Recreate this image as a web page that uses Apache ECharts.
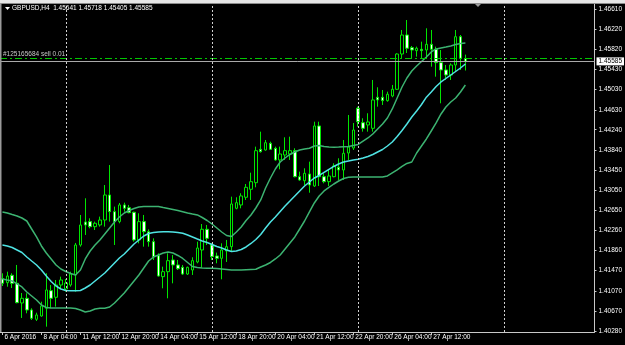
<!DOCTYPE html>
<html>
<head>
<meta charset="utf-8">
<script src="https://cdn.jsdelivr.net/npm/echarts@6/dist/echarts.min.js"></script>
<style>
html,body{margin:0;padding:0;background:#000;}
#c{width:625px;height:345px;}
</style>
</head>
<body>
<div id="c"></div>
<script>
// ---- data (GBPUSD H4) ----
const symbolTitle = 'GBPUSD,H4  1.45641 1.45718 1.45405 1.45585';
const orderText = '#125165684 sell 0.01';
const orderPrice = 1.45645;
const bidPrice = 1.45585;
const totalSlots = 122;
const xTickLabels = ['6 Apr 2016','8 Apr 04:00','11 Apr 12:00','12 Apr 20:00','14 Apr 04:00','15 Apr 12:00','18 Apr 20:00','20 Apr 04:00','21 Apr 12:00','22 Apr 20:00','26 Apr 04:00','27 Apr 12:00'];
const yTicks = [1.40280,1.40670,1.41070,1.41470,1.41860,1.42260,1.42650,1.43050,1.43450,1.43840,1.44240,1.44630,1.45030,1.45430,1.45820,1.46220,1.46610];
const weekSeparators = [13, 43, 73, 103];

const opens = [1.41309,1.41230,1.41376,1.41218,1.40831,1.40923,1.40693,1.40510,1.40575,1.40726,
1.41073,1.40943,1.41185,1.41106,1.41185,1.41382,1.41972,1.42425,1.42432,1.42333,
1.42366,1.42464,1.42956,1.42628,1.42432,1.42760,1.42706,1.42616,1.42071,1.42432,
1.42234,1.42038,1.41762,1.41349,1.41447,1.41677,1.41579,1.41533,1.41401,1.41480,
1.41638,1.41874,1.42281,1.41972,1.41756,1.41710,1.41854,1.41939,1.42694,1.42760,
1.42911,1.43068,1.43198,1.43855,1.43841,1.43972,1.43874,1.43645,1.43743,1.43763,
1.43828,1.43316,1.43237,1.43369,1.43133,1.44314,1.43316,1.43218,1.43316,1.43501,
1.43448,1.43782,1.43880,1.44662,1.44379,1.44334,1.44268,1.44879,1.44879,1.44812,
1.44904,1.45036,1.45730,1.46104,1.45855,1.45796,1.45823,1.45809,1.45921,1.45823,
1.45560,1.45416,1.45317,1.45514,1.46071,1.45641];
const closes = [1.41218,1.41362,1.41218,1.40837,1.40923,1.40693,1.40529,1.40595,1.40772,1.41087,
1.40923,1.41185,1.41283,1.41224,1.41401,1.41972,1.42366,1.42366,1.42333,1.42399,
1.42464,1.42956,1.42628,1.42432,1.42760,1.42694,1.42608,1.42071,1.42432,1.42234,
1.42038,1.41743,1.41362,1.41447,1.41664,1.41579,1.41506,1.41401,1.41533,1.41664,
1.41913,1.42281,1.42103,1.41743,1.41710,1.41874,1.41939,1.42779,1.42805,1.42937,
1.43107,1.43218,1.43828,1.43808,1.43985,1.43855,1.43645,1.43763,1.43828,1.43828,
1.43316,1.43251,1.43383,1.43152,1.44314,1.43316,1.43218,1.43330,1.43527,1.43448,
1.43776,1.43900,1.44235,1.44398,1.44268,1.44393,1.44826,1.44826,1.44812,1.44938,
1.45036,1.45730,1.46104,1.45843,1.45809,1.45843,1.45796,1.45921,1.45823,1.45560,
1.45416,1.45317,1.45514,1.46071,1.45645,1.45585];
const lows = [1.41165,1.41151,1.41125,1.40825,1.40536,1.40628,1.40496,1.40477,1.40562,1.40365,
1.40726,1.40759,1.41120,1.41054,1.41152,1.41054,1.41939,1.42169,1.42300,1.42267,
1.42333,1.42333,1.42432,1.41972,1.42399,1.42628,1.42596,1.42038,1.42005,1.41939,
1.41939,1.41677,1.41349,1.41120,1.40923,1.41218,1.41480,1.41382,1.41382,1.41382,
1.41612,1.41533,1.41972,1.41677,1.41612,1.41297,1.41638,1.41841,1.42674,1.42694,
1.42858,1.42858,1.43107,1.43789,1.43828,1.43841,1.43631,1.43461,1.43645,1.43645,
1.43304,1.43237,1.43152,1.43001,1.43113,1.43133,1.43186,1.43133,1.43304,1.43251,
1.43251,1.43645,1.43841,1.44300,1.44202,1.44202,1.44202,1.44694,1.44727,1.44792,
1.44879,1.45022,1.45652,1.45750,1.45646,1.45678,1.45646,1.45652,1.45481,1.45284,
1.44760,1.45219,1.45219,1.45382,1.45416,1.45405];
const highs = [1.41415,1.41447,1.41415,1.41579,1.41028,1.41022,1.40726,1.40640,1.40857,1.41415,
1.41185,1.41283,1.41349,1.41303,1.41447,1.42012,1.42563,1.42891,1.42497,1.42432,
1.42530,1.43152,1.43546,1.42727,1.42799,1.42805,1.42760,1.42628,1.42596,1.42563,
1.42280,1.42103,1.41808,1.41546,1.41808,1.41776,1.41677,1.41579,1.41546,1.41730,
1.42038,1.42385,1.42366,1.42005,1.41822,1.42005,1.42071,1.42923,1.42911,1.42990,
1.43172,1.43395,1.43907,1.44202,1.44038,1.44005,1.43907,1.43907,1.44091,1.44103,
1.43875,1.43415,1.43481,1.43612,1.44398,1.44398,1.43383,1.43448,1.43580,1.43678,
1.44038,1.44530,1.44373,1.44694,1.44465,1.44564,1.45219,1.45075,1.45022,1.44989,
1.45121,1.45744,1.46203,1.46399,1.45888,1.45875,1.45973,1.46236,1.46203,1.45875,
1.45809,1.45514,1.45547,1.46203,1.46104,1.45718];

const bandUpper = [1.42622,1.42602,1.42572,1.42543,1.42503,1.42444,1.42287,1.42130,1.41953,1.41815,
1.41697,1.41579,1.41500,1.41451,1.41411,1.41382,1.41480,1.41697,1.41854,1.41972,
1.42071,1.42189,1.42307,1.42425,1.42523,1.42602,1.42651,1.42691,1.42720,1.42730,
1.42730,1.42730,1.42730,1.42710,1.42691,1.42671,1.42651,1.42628,1.42602,1.42582,
1.42563,1.42513,1.42454,1.42385,1.42307,1.42228,1.42159,1.42139,1.42228,1.42326,
1.42454,1.42563,1.42700,1.42858,1.43093,1.43290,1.43467,1.43605,1.43684,1.43753,
1.43802,1.43841,1.43861,1.43875,1.43920,1.43930,1.43910,1.43900,1.43894,1.43900,
1.43907,1.43910,1.43930,1.43950,1.44018,1.44078,1.44156,1.44255,1.44353,1.44471,
1.44649,1.44865,1.45081,1.45258,1.45396,1.45494,1.45583,1.45671,1.45770,1.45829,
1.45849,1.45868,1.45888,1.45917,1.45937,1.45947];
const bandMiddle = [1.41972,1.41953,1.41923,1.41874,1.41825,1.41736,1.41657,1.41579,1.41480,1.41362,
1.41254,1.41165,1.41106,1.41077,1.41073,1.41073,1.41077,1.41126,1.41185,1.41264,
1.41342,1.41421,1.41520,1.41618,1.41716,1.41795,1.41894,1.41992,1.42071,1.42149,
1.42198,1.42218,1.42228,1.42234,1.42234,1.42228,1.42218,1.42202,1.42169,1.42130,
1.42090,1.42051,1.42021,1.41982,1.41943,1.41913,1.41874,1.41844,1.41854,1.41884,
1.41933,1.42002,1.42080,1.42179,1.42307,1.42425,1.42523,1.42631,1.42740,1.42838,
1.42937,1.43035,1.43133,1.43212,1.43290,1.43340,1.43399,1.43458,1.43517,1.43566,
1.43605,1.43625,1.43645,1.43658,1.43684,1.43714,1.43753,1.43802,1.43851,1.43920,
1.43999,1.44107,1.44225,1.44353,1.44491,1.44609,1.44737,1.44880,1.44983,1.45091,
1.45180,1.45248,1.45317,1.45386,1.45455,1.45534];
const bandLower = [1.41303,1.41283,1.41264,1.41205,1.41146,1.41047,1.40969,1.40890,1.40792,1.40742,
1.40733,1.40733,1.40733,1.40733,1.40733,1.40723,1.40693,1.40654,1.40674,1.40713,
1.40727,1.40727,1.40752,1.40831,1.40929,1.41028,1.41146,1.41264,1.41382,1.41520,
1.41657,1.41736,1.41776,1.41815,1.41835,1.41815,1.41766,1.41707,1.41628,1.41549,
1.41530,1.41520,1.41514,1.41514,1.41510,1.41500,1.41490,1.41480,1.41480,1.41480,
1.41486,1.41490,1.41494,1.41539,1.41579,1.41628,1.41697,1.41776,1.41894,1.42012,
1.42130,1.42287,1.42444,1.42622,1.42799,1.42937,1.43035,1.43104,1.43172,1.43231,
1.43281,1.43304,1.43310,1.43310,1.43310,1.43310,1.43310,1.43310,1.43310,1.43330,
1.43389,1.43448,1.43517,1.43576,1.43605,1.43782,1.43920,1.44058,1.44215,1.44373,
1.44550,1.44688,1.44786,1.44865,1.44983,1.45121];

// ---- build ----
const categories = [];
for (let i = 0; i < totalSlots; i++) categories.push(String(i));
const ohlc = opens.map((o, i) => [o, closes[i], lows[i], highs[i]]);

const FONT = 'Liberation Sans';
const isLabelIdx = (i) => i % 8 === 0 && (i / 8) < xTickLabels.length;

const chart = echarts.init(document.getElementById('c'), null, {renderer: 'canvas'});
chart.setOption({
  animation: false,
  backgroundColor: '#000',
  grid: {left: 0, right: 28, top: 4, bottom: 13, containLabel: false},
  xAxis: {
    type: 'category',
    data: categories,
    boundaryGap: true,
    axisLine: {show: true, lineStyle: {color: '#c8c8c8', width: 1}},
    axisTick: {show: true, interval: (i) => isLabelIdx(i), alignWithLabel: true, length: 3, lineStyle: {color: '#c8c8c8'}},
    axisLabel: {
      show: true, interval: (i) => isLabelIdx(i),
      formatter: (v, i) => xTickLabels[i / 8] || '',
      color: '#ffffff', fontFamily: FONT, fontSize: 6.5, align: 'left', margin: 2, padding: [0, 0, 0, 2]
    },
    splitLine: {show: false}
  },
  yAxis: {
    type: 'value',
    position: 'right',
    min: 1.40260,
    max: 1.46714,
    scale: true,
    axisLine: {show: true, lineStyle: {color: '#c8c8c8', width: 1}},
    axisTick: {show: true, length: 2, customValues: yTicks, lineStyle: {color: '#c8c8c8'}},
    axisLabel: {
      show: true, customValues: yTicks, hideOverlap: false,
      formatter: (v) => v.toFixed(5),
      color: '#ffffff', fontFamily: FONT, fontSize: 6.5, margin: 4
    },
    splitLine: {show: false}
  },
  series: [
    {
      type: 'candlestick',
      data: ohlc,
      barWidth: 3,
      z: 2,
      itemStyle: {color: '#000000', color0: '#ffffff', borderColor: '#00e600', borderColor0: '#00e600', borderWidth: 1}
    },
    {
      type: 'line', data: bandUpper, symbol: 'none', z: 3,
      lineStyle: {color: '#3cb371', width: 1.5}
    },
    {
      type: 'line', data: bandMiddle, symbol: 'none', z: 3,
      lineStyle: {color: '#4fe3e3', width: 1.5},
      markLine: {
        silent: true, symbol: 'none', animation: false, precision: 5,
        data: [
          {yAxis: orderPrice, lineStyle: {color: '#00c800', width: 1, type: [7, 3, 2, 3]},
           label: {show: true, position: 'insideStartTop', formatter: orderText, color: '#c8c8c8', fontFamily: FONT, fontSize: 6.5, distance: [3, 1]}},
          {yAxis: bidPrice, lineStyle: {color: '#a9a9a9', width: 1, type: 'solid'},
           label: {show: true, position: 'end', formatter: bidPrice.toFixed(5), color: '#000', backgroundColor: '#ffffff', fontFamily: FONT, fontSize: 6.5, padding: [1, 2, 0, 2], distance: 2}}
        ]
      }
    },
    {
      type: 'line', data: bandLower, symbol: 'none', z: 3,
      lineStyle: {color: '#3cb371', width: 1.5}
    },
    {
      type: 'line', data: [], z: 1,
      markLine: {
        silent: true, symbol: 'none', animation: false, label: {show: false},
        lineStyle: {color: '#d0d0d0', width: 1, type: [2, 2]},
        data: weekSeparators.map(i => ({xAxis: i}))
      }
    }
  ],
  graphic: [
    {type: 'rect', shape: {x: 0, y: 0, width: 625, height: 3}, style: {fill: '#e6e6e6'}, z: 10},
    {type: 'rect', shape: {x: 0, y: 3, width: 625, height: 1}, style: {fill: '#8c8c8c'}, z: 10},
    {type: 'rect', shape: {x: 0, y: 3, width: 1.5, height: 329}, style: {fill: '#9a9a9a'}, z: 10},
    {type: 'polygon', shape: {points: [[475, 4], [481, 4], [478, 7]]}, style: {fill: '#9a9a9a'}, z: 10},
    {type: 'polygon', shape: {points: [[5, 7], [10, 7], [7.5, 10]]}, style: {fill: '#ffffff'}, z: 10},
    {type: 'text', left: 12, top: 5, style: {text: symbolTitle, fill: '#ffffff', font: '6.5px "Liberation Sans"'}, z: 10}
  ]
});
</script>
</body>
</html>
